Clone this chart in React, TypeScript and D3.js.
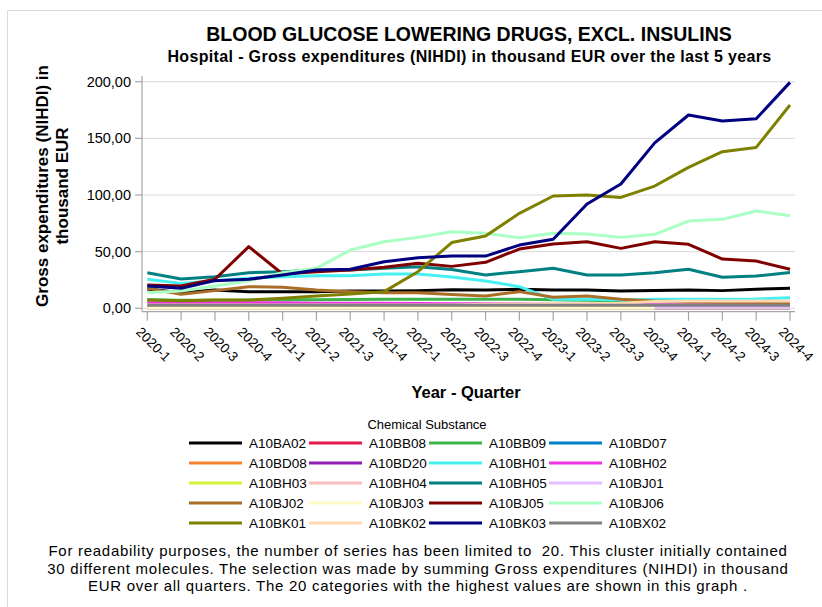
import React from 'react';
import * as d3 from 'd3';

const quarters = ['2020-1','2020-2','2020-3','2020-4','2021-1','2021-2','2021-3','2021-4','2022-1','2022-2','2022-3','2022-4','2023-1','2023-2','2023-3','2023-4','2024-1','2024-2','2024-3','2024-4'];
const yTicks = [0, 50, 100, 150, 200];
const yTickLabels = ['0,00', '50,00', '100,00', '150,00', '200,00'];

const seriesNames = ['A10BA02','A10BB08','A10BB09','A10BD07','A10BD08','A10BD20','A10BH01','A10BH02','A10BH03','A10BH04','A10BH05','A10BJ01','A10BJ02','A10BJ03','A10BJ05','A10BJ06','A10BK01','A10BK02','A10BK03','A10BX02'];
const seriesColors = ['#000000','#e6194b','#3cb44b','#0082c8','#f58231','#911eb4','#46f0f0','#f032e6','#d2f53c','#fabebe','#008080','#e6beff','#aa6e28','#fffac8','#800000','#aaffc3','#808000','#ffd8b1','#000080','#808080'];

type V = number | null;
const A10BA02: V[] = [17, 13.8, 16.1, 14.7, 14.7, 14.7, 15.3, 15.3, 15.6, 16.4, 16.1, 16.8, 16.1, 16.1, 15.3, 15.8, 16.1, 15.6, 16.8, 17.6];
const A10BB08: V[] = [1.5, 1.2, 1.3, 1.5, 1.5, 1.2, 1.0, 1.0, 1.0, 1.0, 0.8, 0.8, 0.8, 0.8, 0.8, 0.8, 0.8, 0.8, 0.8, 0.8];
const A10BB09: V[] = [7.6, 7.2, 7.2, 7.2, 7.5, 7.5, 7.8, 8, 8, 8, 8, 8, 7.6, 7, 6.5, 6, 5.8, 5.5, 5.5, 6];
const A10BD07: V[] = [null, null, null, null, null, null, null, null, null, null, null, null, null, null, null, 0.6, 0.6, 0.6, 0.6, 0.6];
const A10BD08: V[] = [2, 2, 2, 2, 2, 2, 2, 2, 2, 2, 2, 2, 2, 2, 2, 2.5, 3, 3, 3.5, 3.5];
const A10BD20: V[] = [0.3, 0.3, 0.3, 0.3, 0.3, 0.3, 0.3, 0.3, 0.3, 0.3, 0.3, 0.3, 0.3, 0.3, 0.3, 0.3, 0.3, 0.3, 0.3, 0.3];
const A10BH01: V[] = [25.6, 22, 24.4, 26.5, 27.9, 28.8, 28.8, 30.3, 30.3, 27.6, 24.1, 19.1, 7.9, 7.9, 7.3, 7.9, 7.9, 7.9, 8.2, 9.4];
const A10BH02: V[] = [5, 5, 5, 5, 5, 4.5, 4.5, 4.5, 4.2, 4, 4, 3.8, 3.5, 3.5, 3.5, 3.2, 3, 3, 3, 3];
const A10BH03: V[] = [0.5, 0.5, 0.5, 0.5, 0.5, 0.5, 0.5, 0.5, 0.5, 0.5, 0.5, 0.5, 0.5, 0.5, 0.5, 0.5, 0.5, 0.5, 0.5, 0.5];
const A10BH04: V[] = [1.5, 1.5, 1.5, 1.5, 1.5, 1.5, 1.5, 1.5, 1.5, 1.5, 1.5, 1.5, 1.5, 1.5, 1.5, 1.2, 1.2, 1.2, 1.2, 1.2];
const A10BH05: V[] = [31.4, 25.9, 27.9, 31.4, 32.3, 33.8, 33.8, 35.3, 36.7, 34.3, 29.4, 32.3, 35.3, 29.4, 29.4, 31.4, 34.4, 27.4, 28.5, 31.7];
const A10BJ01: V[] = [1, 1, 1, 1, 1, 1, 1, 1, 1, 1, 1, 1, 1, 1, 1, 1, 1, 1, 1, 1];
const A10BJ02: V[] = [17.6, 12.3, 15.6, 19.1, 18.5, 16.1, 14.7, 13.8, 13.8, 12.2, 10.9, 14.7, 9.7, 10.9, 7.9, 6.4, 5.8, 5.3, 5.3, 4.9];
const A10BJ03: V[] = [0.2, 0.2, 0.2, 0.2, 0.2, 0.2, 0.2, 0.2, 0.2, 0.2, 0.2, 0.2, 0.2, 0.2, 0.2, 0.2, null, null, null, null];
const A10BJ05: V[] = [20.6, 19.7, 25.6, 54.4, 30.3, 32.3, 33.8, 36.2, 39.7, 37, 40.6, 52.3, 56.7, 58.8, 52.9, 58.8, 56.5, 43.5, 41.7, 34.4];
const A10BJ06: V[] = [13.8, 15.3, 19.7, 24.4, 31.4, 35.3, 51.4, 58.8, 62.6, 67.6, 66.2, 62.3, 66.2, 65.6, 62.6, 65.3, 77, 78.5, 85.9, 81.7];
const A10BK01: V[] = [7.3, 6.7, 7.3, 7.3, 8.8, 10.9, 12.6, 14.7, 32.3, 58, 63.8, 83.8, 99.1, 100, 97.9, 107.9, 124.4, 138.2, 142, 179.4];
const A10BK02: V[] = [3, 3, 3, 3, 3, 3, 3, 3, 3, 3, 3.5, 3.5, 4, 4, 4.5, 6, 6.5, 6.5, 6.5, 6.5];
const A10BK03: V[] = [19.7, 17.6, 24.4, 25.6, 29.4, 33.8, 34.4, 41.1, 44.7, 46.1, 46.1, 55.8, 60.9, 92, 109.7, 146, 170.6, 165.3, 167.3, 199.4];
const A10BX02: V[] = [2.8, 2.8, 2.8, 2.8, 2.8, 2.8, 2.8, 2.8, 2.8, 2.8, 2.8, 2.8, 2.8, 2.8, 2.8, 2.8, 2.8, 2.8, 2.8, 2.8];

const seriesValues: V[][] = [A10BA02, A10BB08, A10BB09, A10BD07, A10BD08, A10BD20, A10BH01, A10BH02, A10BH03, A10BH04, A10BH05, A10BJ01, A10BJ02, A10BJ03, A10BJ05, A10BJ06, A10BK01, A10BK02, A10BK03, A10BX02];

const footnote = [
  'For readability purposes, the number of series has been limited to  20. This cluster initially contained',
  '30 different molecules. The selection was made by summing Gross expenditures (NIHDI) in thousand',
  'EUR over all quarters. The 20 categories with the highest values are shown in this graph .',
];

const FONT = "'Liberation Sans', Arial, sans-serif";

export default function App() {
  const x = d3.scalePoint<string>().domain(quarters).range([147.3, 790]);
  const y = d3.scaleLinear().domain([0, 200]).range([308.3, 81.7]);
  const axisX = 142;
  const axisBottom = 311.7;
  const plotRight = 795;

  const line = d3
    .line<V>()
    .defined((d) => d != null)
    .x((_, i) => x(quarters[i]) as number)
    .y((d) => y(d as number));

  return (
    <svg width={822} height={607} style={{ position: 'absolute', left: 0, top: 0, fontFamily: FONT }}>
      <rect width={822} height={607} fill="#fff" />
      <path d="M7.5,607 V10.5 H822" fill="none" stroke="#d9d9d9" strokeWidth={1} />

      <text x={469} y={41} textAnchor="middle" fontSize={19.5} fontWeight="bold" fill="#000">
        BLOOD GLUCOSE LOWERING DRUGS, EXCL. INSULINS
      </text>
      <text x={469.5} y={62} textAnchor="middle" fontSize={16} letterSpacing={0.35} fontWeight="bold" fill="#000">
        Hospital - Gross expenditures (NIHDI) in thousand EUR over the last 5 years
      </text>

      {/* grid */}
      {yTicks.map((t) => (
        <line key={'g' + t} x1={axisX} x2={plotRight} y1={y(t)} y2={y(t)} stroke="#d9d9d9" strokeWidth={1} />
      ))}

      {/* y axis */}
      <line x1={axisX} x2={axisX} y1={76} y2={axisBottom} stroke="#a6a6a6" strokeWidth={1.2} />
      {yTicks.map((t, i) => (
        <g key={'yt' + t}>
          <line x1={axisX - 7} x2={axisX} y1={y(t)} y2={y(t)} stroke="#a6a6a6" strokeWidth={1.2} />
          <text x={axisX - 11} y={y(t)} dy="0.35em" textAnchor="end" fontSize={14.5} fill="#000">
            {yTickLabels[i]}
          </text>
        </g>
      ))}

      {/* x axis */}
      <line x1={axisX} x2={plotRight} y1={axisBottom} y2={axisBottom} stroke="#a6a6a6" strokeWidth={1.2} />
      {quarters.map((q) => {
        const px = x(q) as number;
        return (
          <g key={'xt' + q}>
            <line x1={px} x2={px} y1={axisBottom} y2={axisBottom + 9} stroke="#a6a6a6" strokeWidth={1.2} />
            <text transform={`translate(${px - 12},${axisBottom + 21}) rotate(45)`} fontSize={13.5} fill="#000">
              {q}
            </text>
          </g>
        );
      })}

      {/* lines */}
      {seriesValues.map((vals, k) => (
        <path key={seriesNames[k]} d={line(vals) || ''} fill="none" stroke={seriesColors[k]} strokeWidth={3} strokeLinejoin="round" />
      ))}

      {/* axis titles */}
      <text transform="translate(48,186) rotate(-90)" textAnchor="middle" fontSize={17} fontWeight="bold" fill="#000">
        Gross expenditures (NIHDI) in
      </text>
      <text transform="translate(68,186) rotate(-90)" textAnchor="middle" fontSize={17} fontWeight="bold" fill="#000">
        thousand EUR
      </text>
      <text x={466} y={398} textAnchor="middle" fontSize={16.5} fontWeight="bold" fill="#000">
        Year - Quarter
      </text>

      {/* legend */}
      <text x={427} y={429} textAnchor="middle" fontSize={13} fill="#000">
        Chemical Substance
      </text>
      {seriesNames.map((n, k) => {
        const c = k % 4;
        const r = Math.floor(k / 4);
        const lx = 189 + c * 120;
        const ly = 443 + r * 20;
        return (
          <g key={'lg' + n}>
            <line x1={lx} x2={lx + 53} y1={ly} y2={ly} stroke={seriesColors[k]} strokeWidth={3} />
            <text x={lx + 60} y={ly} dy="0.35em" fontSize={13.5} fill="#000">
              {n}
            </text>
          </g>
        );
      })}

      {/* footnote */}
      {footnote.map((t, i) => (
        <text key={'fn' + i} x={418} y={556 + i * 17.5} textAnchor="middle" fontSize={15} letterSpacing={0.72} fill="#000" style={{ whiteSpace: 'pre' }}>
          {t}
        </text>
      ))}
    </svg>
  );
}
